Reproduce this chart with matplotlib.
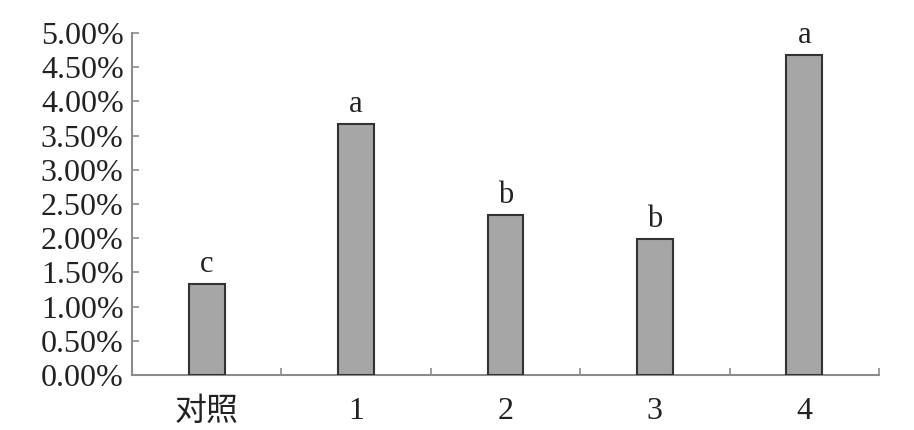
import numpy as np
import matplotlib.pyplot as plt
from matplotlib.ticker import FuncFormatter, FixedLocator

# data
categories = ['对照', '1', '2', '3', '4']
rates = [1.33, 3.67, 2.34, 1.99, 4.68]   # percent
letters = ['c', 'a', 'b', 'b', 'a']

plt.rcParams['font.family'] = ['Liberation Serif', 'Noto Sans CJK SC']

fig = plt.figure(figsize=(9.14, 4.30), dpi=100)
ax = fig.add_axes([0.1444, 0.128, 0.8173, 0.795])

x = np.arange(len(categories))
ax.bar(x, rates, width=0.24, color='#a6a6a6', edgecolor='#333333', linewidth=1.5, zorder=3)

for xi, v, lab in zip(x, rates, letters):
    ax.text(xi, v + 0.07, lab, ha='center', va='bottom', fontsize=22, color='#222222')

ax.set_xlim(-0.5, len(categories) - 0.5)
ax.set_ylim(0, 5)
ax.set_yticks(np.arange(0, 5.01, 0.5))
ax.yaxis.set_major_formatter(FuncFormatter(lambda v, p: f'{v:.2f}%'))

ax.set_xticks(x)
ax.set_xticklabels(categories)
ax.xaxis.set_minor_locator(FixedLocator(np.arange(0.5, len(categories), 1.0)))

for s in ['top', 'right']:
    ax.spines[s].set_visible(False)
for s in ['left', 'bottom']:
    ax.spines[s].set_color('#8c8c8c')
    ax.spines[s].set_linewidth(1.5)

ax.tick_params(axis='y', direction='in', length=5, width=1.2, color='#8c8c8c',
               labelsize=23, labelcolor='#222222', pad=6)
ax.tick_params(axis='x', which='major', length=0, labelsize=23, labelcolor='#222222', pad=16)
ax.tick_params(axis='x', which='minor', direction='in', length=5, width=1.2, color='#8c8c8c')

fig.savefig('out.png', dpi=100)
